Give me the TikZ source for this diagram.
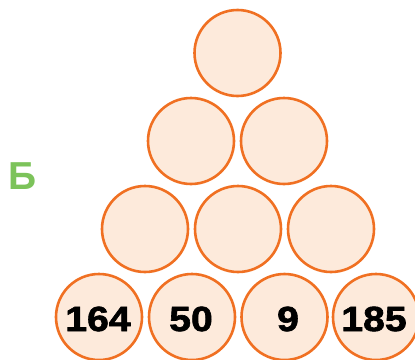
\documentclass[tikz,border=0pt]{standalone}
\usepackage{fontspec}
\setmainfont{Liberation Sans}
\newfontfamily\heavyfont{Liberation Sans}[BoldFeatures={FakeBold=1.8,FakeStretch=1.12}]
\definecolor{ring}{HTML}{F07022}
\definecolor{ballfill}{HTML}{FDEADB}
\definecolor{lettergreen}{HTML}{7CC35A}
\begin{document}
\begin{tikzpicture}[x=1pt,y=-1pt,
  ball/.style={circle,draw=ring,fill=ballfill,line width=2.6pt,minimum size=86pt,inner sep=0pt},
  num/.style={font=\heavyfont\fontsize{35}{35}\selectfont\bfseries,text=black}]
\useasboundingbox (0,0) rectangle (415,359);
\node[ball] (a1) at (237.5,53) {};
\node[ball] (b1) at (191,141) {};
\node[ball] (b2) at (284,141) {};
\node[ball] (c1) at (145,229) {};
\node[ball] (c2) at (238,229) {};
\node[ball] (c3) at (331,229) {};
\node[ball] (d1) at (99,317) {};
\node[ball] (d2) at (192,317) {};
\node[ball] (d3) at (284.5,317) {};
\node[ball] (d4) at (376,317) {};
\node[num] (t1) at (98,319) {164};
\node[num] (t2) at (191,319) {50};
\node[num] (t3) at (288,319) {9};
\node[num] (t4) at (374,319) {185};
\node[font=\fontsize{39}{39}\selectfont\bfseries,text=lettergreen] (lab) at (22.5,176) {Б};
\end{tikzpicture}
\end{document}
